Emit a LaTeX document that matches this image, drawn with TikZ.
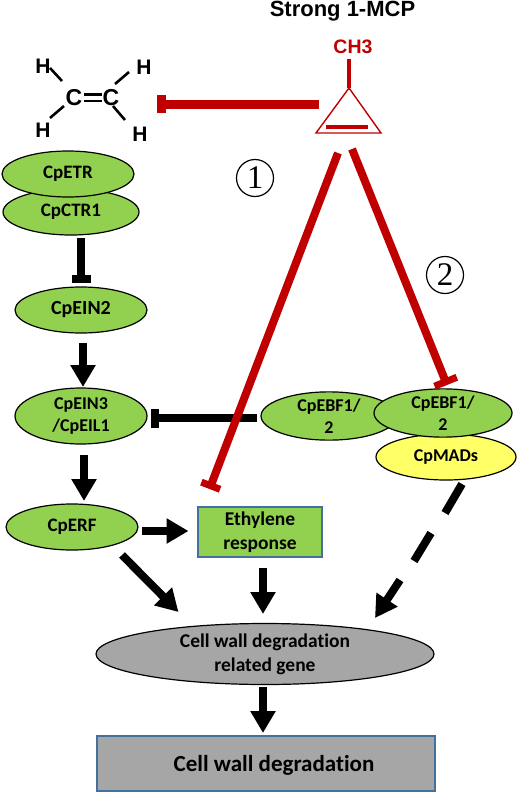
\documentclass[tikz,border=0pt]{standalone}
\usepackage{fontspec}
\setmainfont[Ligatures=NoCommon]{Carlito}
\newfontfamily\arialf{Liberation Sans}
\newfontfamily\timesf{Liberation Serif}
\usetikzlibrary{arrows.meta,shapes.geometric}
\definecolor{leaf}{HTML}{92D050}
\definecolor{lemon}{HTML}{FFFF66}
\definecolor{stone}{HTML}{A6A6A6}
\definecolor{inhib}{HTML}{C00000}
\definecolor{edge}{HTML}{41719C}
\tikzset{
  x=1pt,y=-1pt,
  lab/.style={font=\bfseries\fontsize{19}{22}\selectfont,align=center,text=black},
  smalllab/.style={font=\bfseries\fontsize{18}{21.5}\selectfont},
  oval/.style args={#1/#2}{ellipse,draw=black,fill=leaf,line width=1.2pt,inner sep=0pt,minimum width=#1pt,minimum height=#2pt,lab},
  fatarrow/.style={line width=8pt,black,-{Triangle[width=24pt,length=22pt]}},
  blockblack/.style={line width=8pt,black,-{Bar[width=19pt,line width=8pt]}},
  blockred/.style args={#1/#2/#3}{line width=#1pt,inhib,-{Bar[width=#2pt,line width=#3pt]}},
  numcirc/.style={circle,draw=black,line width=1.2pt,minimum size=37pt,inner sep=0pt,font=\timesf\fontsize{33}{33}\selectfont},
  hatom/.style={font=\arialf\bfseries\fontsize{21}{21}\selectfont,inner sep=0pt},
  bond/.style={line width=2.6pt,black},
}
\begin{document}
\begin{tikzpicture}
\useasboundingbox (0,0) rectangle (520,795);
% ethene
\node[hatom,font=\arialf\bfseries\fontsize{23}{23}\selectfont] (c1) at (74,98) {C};
\node[hatom,font=\arialf\bfseries\fontsize{23}{23}\selectfont] (c2) at (111,98) {C};
\node[hatom] (h1) at (43,66) {H};
\node[hatom] (h2) at (144,67) {H};
\node[hatom] (h3) at (43,130) {H};
\node[hatom] (h4) at (140,134) {H};
\draw[bond] (84,94.5) -- (102,94.5);
\draw[bond] (84,101) -- (102,101);
\draw[bond] (50,68) -- (62,81);
\draw[bond] (129,72) -- (115,84);
\draw[bond] (64,106) -- (50,118);
\draw[bond] (113,106) -- (125,120);
% 1-MCP
\node[font=\arialf\bfseries\fontsize{22}{22}\selectfont] (title) at (342.5,11) {Strong 1-MCP};
\node[font=\arialf\bfseries\fontsize{19.5}{20}\selectfont,text=inhib,inner sep=0pt] (ch3) at (353,47) {CH3};
\coordinate (apex) at (349,88);
\coordinate (bl) at (316,133);
\coordinate (br) at (381,133);
\draw[inhib,line width=4pt] (349,59) -- (apex);
\draw[inhib,line width=1.4pt,line join=miter] (apex) -- (bl) -- (br) -- cycle;
\draw[inhib,line width=3.5pt] (326,127) -- (368,127);
% ovals
\node[oval=136/46] (ctr) at (71,212) {CpCTR1};
\node[oval=132/46] (etr) at (68,174) {CpETR};
\node[oval=132/46,font=\bfseries\fontsize{20}{22}\selectfont] (ein2) at (81,310) {CpEIN2};
\node[oval=132/56,smalllab] (ein3) at (81,416) {CpEIN3\\/CpEIL1};
\node[oval=132/46] (erf) at (72,527) {CpERF};
\node[oval=140/46,fill=lemon,smalllab] (mads) at (446,457) {CpMADs};
\node[oval=136/46,smalllab] (ebfl) at (329,416) {CpEBF1/\\2};
\node[oval=138/46,smalllab] (ebfr) at (443,413) {CpEBF1/\\2};
\node[draw=edge,line width=1.5pt,fill=leaf,minimum width=124pt,minimum height=50pt,inner sep=0pt,lab,font=\bfseries\fontsize{19.5}{23.5}\selectfont] (resp) at (260,532) {Ethylene\\response};
\node[oval=338/61,fill=stone,font=\bfseries\fontsize{19.5}{24}\selectfont] (gene) at (265,654) {Cell wall degradation\\related gene};
\node[draw=edge,line width=1.5pt,fill=stone,minimum width=338pt,minimum height=55pt,inner sep=0pt] (wall) at (266,763.5) {};
\node[font=\bfseries\fontsize{23}{24}\selectfont,inner sep=0pt] (walltext) at (274,765) {Cell wall degradation};
% numbers
\node[numcirc] (n1) at (255,178) {1};
\node[numcirc] (n2) at (445,275) {2};
% free ends
\coordinate (a1) at (81,238); \coordinate (a2) at (81,283);
\coordinate (b1) at (83,343); \coordinate (b2) at (83,387);
\coordinate (d1) at (84,455); \coordinate (d2) at (84,501);
\coordinate (e1) at (142,531); \coordinate (e2) at (188.5,531);
\coordinate (f1) at (122,555); \coordinate (f2) at (178.5,612);
\coordinate (g1) at (263,568); \coordinate (g2) at (263,614);
\coordinate (h5) at (263,687); \coordinate (h6) at (263,733);
\coordinate (k1) at (257,418); \coordinate (k2) at (151,418);
\coordinate (m1) at (319,104); \coordinate (m2) at (157,104);
\coordinate (p1) at (338,153); \coordinate (p2) at (209.5,489);
\coordinate (q1) at (352,149); \coordinate (q2) at (447,385);
\coordinate (r1) at (462,484); \coordinate (r2) at (445,513);
\coordinate (s1) at (431,533); \coordinate (s2) at (414,561);
\coordinate (t1) at (400,580); \coordinate (t2) at (375,618);
% connectors
\draw[blockblack] (a1) -- (a2);
\draw[fatarrow] (b1) -- (b2);
\draw[fatarrow] (d1) -- (d2);
\draw[fatarrow] (e1) -- (e2);
\draw[fatarrow] (f1) -- (f2);
\draw[fatarrow] (g1) -- (g2);
\draw[fatarrow] (h5) -- (h6);
\draw[blockblack] (k1) -- (k2);
\draw[line width=8pt,black] (r1) -- (r2);
\draw[line width=8pt,black] (s1) -- (s2);
\draw[fatarrow] (t1) -- (t2);
\draw[blockred=9/18/9] (m1) -- (m2);
\draw[blockred=8/20/7] (p1) -- (p2);
\draw[blockred=8/24/7] (q1) -- (q2);
\end{tikzpicture}
\end{document}
